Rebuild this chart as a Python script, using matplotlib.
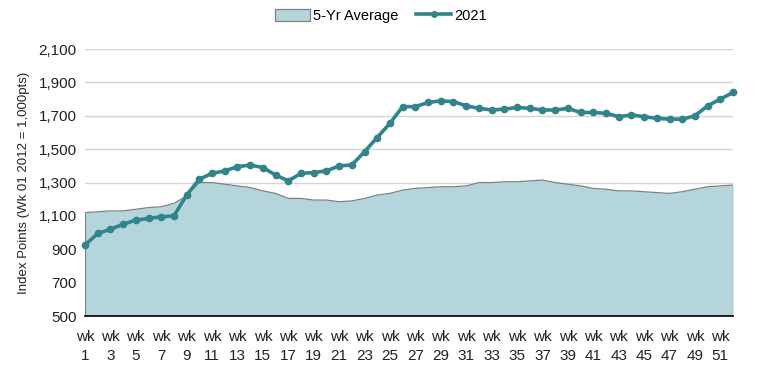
import matplotlib.pyplot as plt
from matplotlib.patches import Patch
from matplotlib.lines import Line2D

plt.rcParams['font.family'] = ['Liberation Sans', 'DejaVu Sans']

weeks = list(range(1, 53))

avg_5yr = [1120, 1125, 1130, 1130, 1140, 1150, 1155, 1175, 1220, 1300,
           1300, 1290, 1280, 1270, 1250, 1235, 1205, 1205, 1195, 1195,
           1185, 1190, 1205, 1225, 1235, 1255, 1265, 1270, 1275, 1275,
           1280, 1300, 1300, 1305, 1305, 1310, 1315, 1300, 1290, 1280,
           1265, 1260, 1250, 1250, 1245, 1240, 1235, 1245, 1260, 1275,
           1280, 1285]

y2021 = [925, 995, 1020, 1050, 1075, 1085, 1095, 1100, 1225, 1320,
         1355, 1370, 1395, 1405, 1390, 1345, 1310, 1355, 1360, 1370,
         1400, 1405, 1485, 1570, 1655, 1755, 1755, 1780, 1790, 1785,
         1760, 1745, 1735, 1740, 1750, 1745, 1735, 1735, 1745, 1720,
         1720, 1715, 1695, 1705, 1695, 1685, 1680, 1680, 1700, 1760,
         1800, 1840]

fill_color = '#b4d5dc'
line_color = '#31848b'

fig = plt.figure(figsize=(7.62, 3.72), dpi=100)
ax = fig.add_axes([0.1115, 0.1505, 0.8505, 0.7175])

ax.fill_between(weeks, 500, avg_5yr, color=fill_color, linewidth=0, zorder=2)
ax.plot(weeks, avg_5yr, color='#808080', linewidth=0.9, zorder=3)
ax.vlines([weeks[0], weeks[-1]], 500, [avg_5yr[0], avg_5yr[-1]],
          color='#808080', linewidth=0.9, zorder=3)
ax.plot(weeks, y2021, color=line_color, linewidth=2.6, marker='o',
        markersize=4.5, zorder=4, clip_on=False)

ax.set_xlim(1, 52)
ax.set_ylim(500, 2100)
ax.set_yticks(range(500, 2101, 200))
ax.set_yticklabels([f'{v:,}' for v in range(500, 2101, 200)])
ax.set_xticks(weeks[::2])
ax.set_xticklabels([f'wk\n{w}' for w in weeks[::2]], linespacing=1.45)
ax.tick_params(axis='both', length=0, labelsize=11, colors='#222222')
ax.tick_params(axis='x', pad=10)
ax.tick_params(axis='y', pad=6)

ax.grid(axis='y', color='#d4d4d4', linewidth=1, zorder=0)
ax.set_axisbelow(True)
for side in ['top', 'right', 'left']:
    ax.spines[side].set_visible(False)
ax.spines['bottom'].set_color('black')
ax.spines['bottom'].set_linewidth(1.2)
ax.spines['bottom'].set_zorder(5)

ax.set_ylabel('Index Points (Wk 01 2012 = 1,000pts)', fontsize=9.5,
              color='#222222', labelpad=6)

handles = [Patch(facecolor=fill_color, edgecolor='#808080', linewidth=0.9),
           Line2D([], [], color=line_color, linewidth=2.6, marker='o', markersize=4)]
fig.legend(handles, ['5-Yr Average', '2021'], loc='upper center',
           bbox_to_anchor=(0.5, 1.012), ncol=2, frameon=False, fontsize=10.5,
           handlelength=2.4, handleheight=0.9, handletextpad=0.2,
           columnspacing=1.2)

fig.savefig('out.png', dpi=100)
